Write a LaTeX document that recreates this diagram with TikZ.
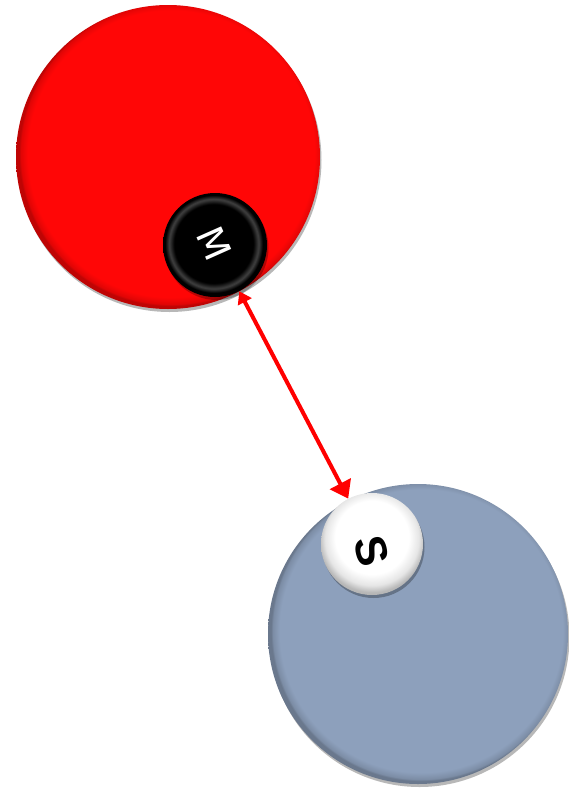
\documentclass[tikz,border=0pt]{standalone}
\usepackage{fontspec}
\setmainfont{Liberation Sans}
\newfontfamily\mfont{DejaVu Sans}
\usetikzlibrary{arrows.meta,shadows}
\definecolor{discred}{RGB}{255,6,6}
\definecolor{slate}{RGB}{141,160,188}
\pgfdeclareradialshading{reddisc}{\pgfpoint{1bp}{1bp}}{color(0bp)=(discred); color(23.6bp)=(discred); color(24.7bp)=(discred!88!black); color(25bp)=(discred!75!black); color(50bp)=(discred!75!black)}
\pgfdeclareradialshading{bluedisc}{\pgfpoint{1bp}{1bp}}{color(0bp)=(slate); color(23.6bp)=(slate); color(24.7bp)=(slate!88!black); color(25bp)=(slate!75!black); color(50bp)=(slate!75!black)}
\pgfdeclareradialshading{blackdisc}{\pgfpoint{-1bp}{1bp}}{color(0bp)=(black); color(19bp)=(black); color(21.5bp)=(black!75); color(23.5bp)=(black); color(50bp)=(black)}
\pgfdeclareradialshading{whitedisc}{\pgfpoint{0bp}{5bp}}{color(0bp)=(white); color(18bp)=(white); color(23bp)=(gray!20); color(26bp)=(gray!55); color(30bp)=(gray!70); color(50bp)=(gray!70)}
\tikzset{
  disc/.style={circle, inner sep=0pt, minimum size=#1},
  dshadow/.style={drop shadow={shadow xshift=1.5pt, shadow yshift=-3pt, opacity=0.28, fill=black}},
  arrowline/.style={draw=red, line width=4pt,
    {Triangle[length=12pt,width=15pt]}-{Triangle[length=17pt,width=23pt]}},
  mlabel/.style={text=white, font=\mfont\fontsize{37}{37}\selectfont, inner sep=0pt},
  slabel/.style={text=black, font=\bfseries\fontsize{44}{44}\selectfont, inner sep=0pt}
}
\begin{document}
\begin{tikzpicture}[x=1pt,y=-1pt]
\useasboundingbox (0,0) rectangle (568,793);
\node[disc=304pt, shading=reddisc, dshadow] (master) at (168,157) {};
\node[disc=300pt, shading=bluedisc, dshadow] (slave) at (418,634) {};
\node[disc=104pt, shading=blackdisc, dshadow] (m) at (215,245) {};
\node[disc=102pt, shading=whitedisc, dshadow] (s) at (372,544) {};
\node[mlabel, rotate=-66] (mtext) at ([xshift=-1pt,yshift=1pt]m.center) {M};
\node[slabel, rotate=-76] (stext) at ([yshift=-7pt]s.center) {S};
\draw[arrowline] (m) -- (s);
\end{tikzpicture}
\end{document}
